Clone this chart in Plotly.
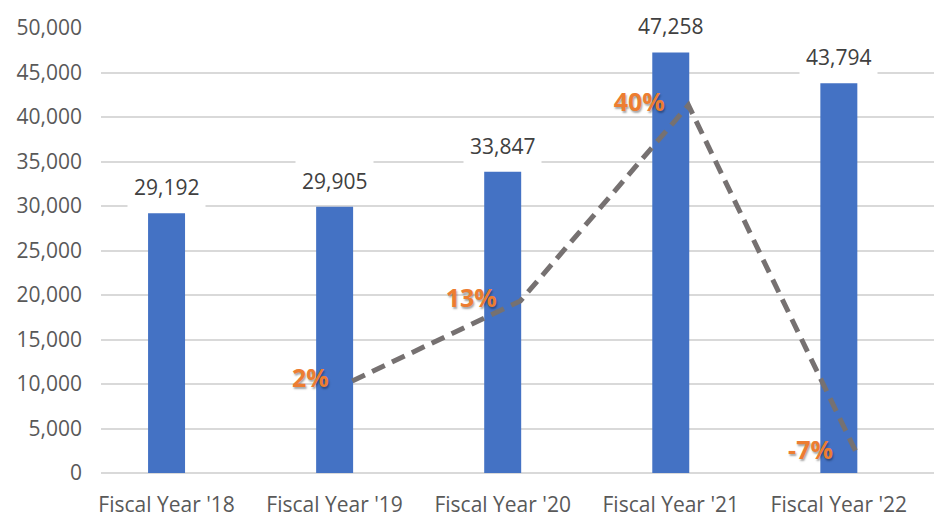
import plotly.graph_objects as go

# ---- data ----
years = ["Fiscal Year '18", "Fiscal Year '19", "Fiscal Year '20",
         "Fiscal Year '21", "Fiscal Year '22"]
revenue = [29192, 29905, 33847, 47258, 43794]
growth_years = years[1:]
growth_pct = [2.4, 13.2, 39.6, -7.3]

FONT = "Open Sans, Lato, sans-serif"
BAR_BLUE = "#4472C4"
ORANGE = "#ED7D31"
GREY_LINE = "#767171"
GRID = "#D9D9D9"

x_range = [-0.39, 4.59]
line_shift = 0.105  # line points sit at the right edge of each bar

fig = go.Figure()

# bars
fig.add_trace(go.Bar(x=years, y=revenue,
                     marker=dict(color=BAR_BLUE, line_width=0),
                     width=0.22,
                     hoverinfo="x+y"))

# growth line (hidden secondary axes)
fig.add_trace(go.Scatter(x=growth_years, y=growth_pct,
                         xaxis="x2", yaxis="y2",
                         mode="lines+markers+text",
                         line=dict(color=GREY_LINE, width=5, dash="14px,8px"),
                         marker=dict(size=36, color="rgba(0,0,0,0)"),
                         texttemplate="%{y:.0f}%",
                         textposition="middle left",
                         textfont=dict(family=FONT, size=25, color=ORANGE,
                                       weight="bold",
                                       shadow="1px 2px 2px rgba(0,0,0,0.35)"),
                         hovertemplate="%{x}: %{y:.1f}%<extra></extra>"))

# value labels with white boxes over the gridlines
for yr, val in zip(years, revenue):
    fig.add_annotation(x=yr, y=val, xref="x", yref="y",
                       text=f"{val:,}", showarrow=False,
                       yanchor="bottom", yshift=5,
                       bgcolor="white", borderpad=6,
                       font=dict(family=FONT, size=21, color="#404040"))

# the page body adds 8px around the figure, so the figure is 16px smaller
fig.update_layout(
    width=934, height=510,
    margin=dict(l=93, r=4, t=20, b=45),
    paper_bgcolor="white", plot_bgcolor="white",
    showlegend=False,
    font=dict(family=FONT, size=21, color="#595959"),
    xaxis=dict(type="category", range=x_range, showgrid=False,
               showline=False, zeroline=False, ticks="",
               automargin=False, ticklabelstandoff=17,
               tickfont=dict(size=21, color="#595959")),
    xaxis2=dict(type="category", overlaying="x", visible=False,
                range=[x_range[0] - line_shift, x_range[1] - line_shift],
                categoryorder="array", categoryarray=years),
    yaxis=dict(range=[0, 50000], dtick=5000, tickformat=",",
               showgrid=True, gridcolor=GRID, gridwidth=1.5,
               zeroline=True, zerolinecolor=GRID, zerolinewidth=1.5,
               showline=False, ticks="", automargin=False,
               ticklabelstandoff=18,
               tickfont=dict(size=21, color="#595959")),
    yaxis2=dict(overlaying="y", range=[-10, 50], visible=False),
)

fig.write_html("out.html")
